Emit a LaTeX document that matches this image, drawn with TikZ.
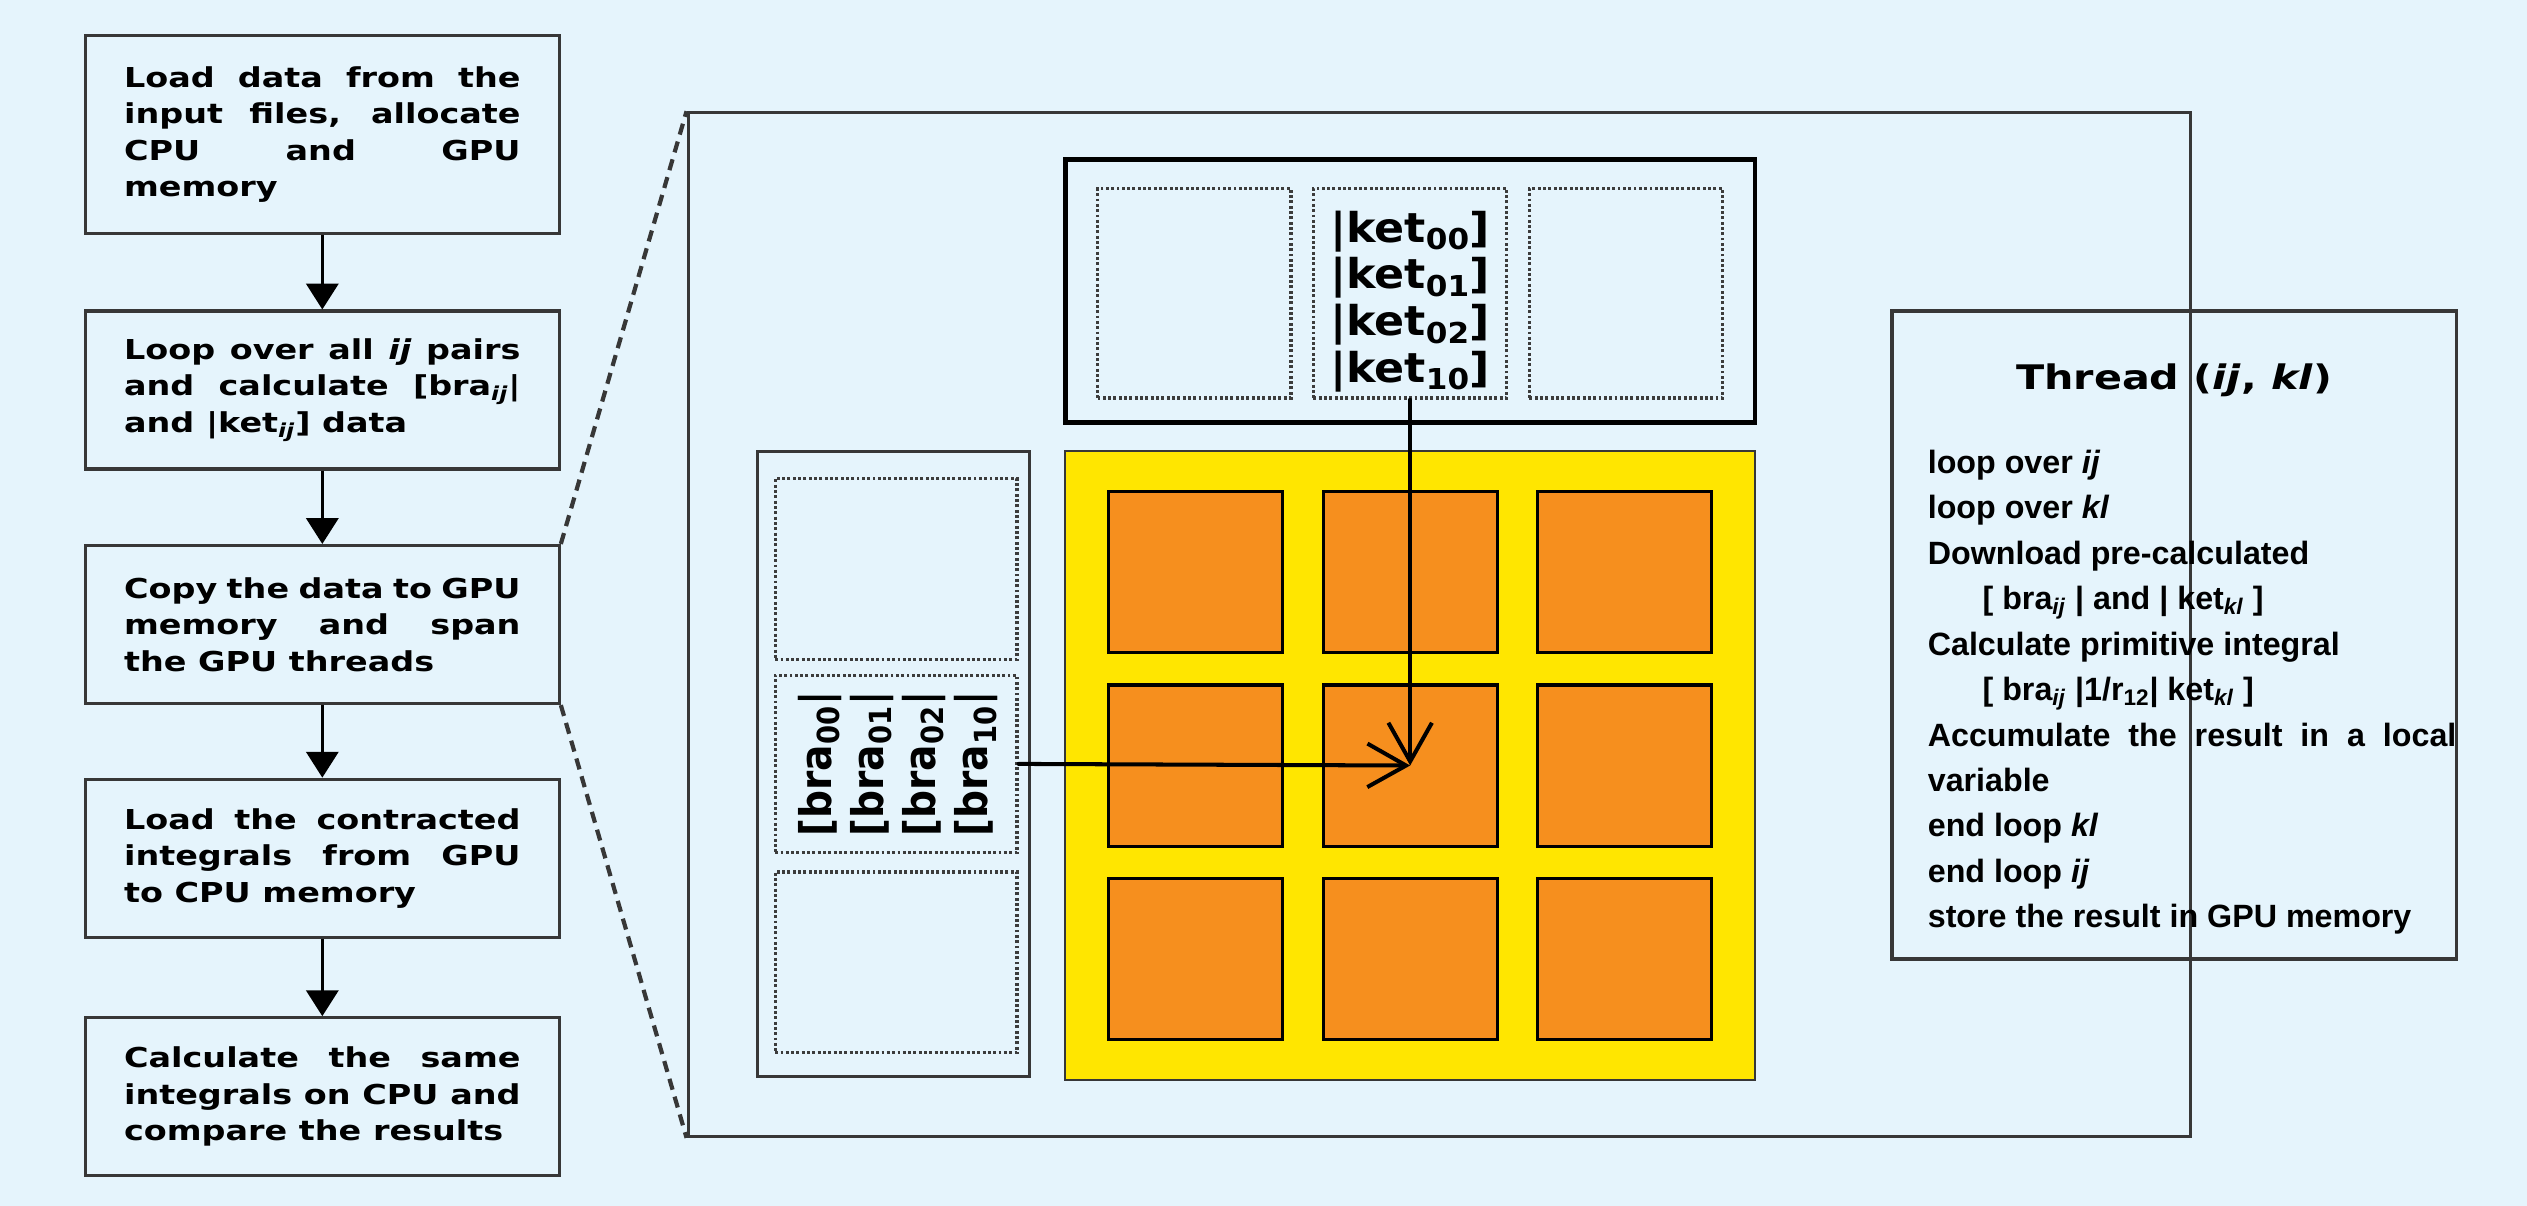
\documentclass[tikz,border=0pt]{standalone}
\usepackage{fontspec}
\setmainfont{DejaVu Sans}
\newfontfamily\vfont[FakeStretch=1.22]{DejaVu Sans}
\newfontfamily\kfont[FakeStretch=1.08]{DejaVu Sans}
\newfontfamily\bfont[FakeStretch=0.9]{DejaVu Sans}
\newfontfamily\afont{Liberation Sans}
\usetikzlibrary{arrows.meta, positioning, calc}
\definecolor{BG}{RGB}{229,244,252}
\definecolor{YL}{RGB}{255,230,0}
\definecolor{OR}{RGB}{246,143,30}
\definecolor{DG}{RGB}{55,55,55}
\definecolor{DT}{RGB}{60,60,60}
\newcommand{\fl}[1]{\makebox[246pt][s]{#1}}

\begin{document}
\begin{tikzpicture}[x=1pt, y=-1pt,
  stepbox/.style={draw=DG, line width=2pt, fill=BG, minimum width=294pt,
                  minimum height=#1, inner sep=0pt, text width=246pt, align=justify,
                  font=\vfont\bfseries\fontsize{17}{22.7}\selectfont},
  frame/.style={draw=DG, line width=2pt, minimum width=#1, inner sep=0pt},
  slot/.style={draw=DT, line width=2pt, dash pattern=on 1.8pt off 1.5pt,
               minimum width=#1, inner sep=0pt},
  cell/.style={draw=black, line width=2pt, fill=OR, minimum width=108pt,
               minimum height=100pt, inner sep=0pt},
  flow/.style={-{Triangle[length=16pt,width=20pt]}, line width=1.6pt},
  ptr/.style={-{Straight Barb[length=24pt,width=27pt]}, line width=2.5pt, line cap=round},
  zoomline/.style={draw=DG, line width=2.6pt, dash pattern=on 7pt off 4.5pt},
  lbl/.style={align=center, inner sep=0pt}
]
\useasboundingbox (0,0) rectangle (1568,748);
\fill[BG] (0,0) rectangle (1568,748);

% Host side steps
\node[stepbox=123pt] (s1) at (200,83.5)
  {\fl{Load data from the}\\ \fl{input files, allocate}\\ \fl{CPU and GPU}\\ memory};
\node[stepbox=98pt] (s2) at (200,242)
  {\fl{Loop over all \textit{ij} pairs}\\ \fl{and calculate [bra\textsubscript{\textit{ij}}|}\\ and |ket\textsubscript{\textit{ij}}] data};
\node[stepbox=98pt] (s3) at (200,387.5)
  {\fl{Copy the data to GPU}\\ \fl{memory and span}\\ the GPU threads};
\node[stepbox=98pt] (s4) at (200,532.5)
  {\fl{Load the contracted}\\ \fl{integrals from GPU}\\ to CPU memory};
\node[stepbox=98pt] (s5) at (200,680.5)
  {\fl{Calculate the same}\\ \fl{integrals on CPU and}\\ compare the results};

\draw[flow] (s1) -- (s2);
\draw[flow] (s2) -- (s3);
\draw[flow] (s3) -- (s4);
\draw[flow] (s4) -- (s5);

% GPU detail
\node[frame=932pt, fill=BG, minimum height=635pt] (gpu) at (893,387.5) {};
\draw[zoomline] (s3.north east) -- (gpu.north west);
\draw[zoomline] (s3.south east) -- (gpu.south west);

% kets
\node[frame=428pt, draw=black, line width=3pt, minimum height=163pt] (kets) at (875,180.5) {};
\node[slot=120pt, minimum height=130pt] (k1) at (741,182) {};
\node[slot=120pt, minimum height=130pt] (k2) at (875,182) {};
\node[slot=120pt, minimum height=130pt] (k3) at (1009,182) {};
\node[lbl, font=\kfont\bfseries\fontsize{25.5}{29}\selectfont] (ktxt) at (875,187)
  {|ket\textsubscript{00}]\\ |ket\textsubscript{01}]\\ |ket\textsubscript{02}]\\ |ket\textsubscript{10}]};

% bras
\node[frame=169pt, minimum height=388pt] (bras) at (554.5,474) {};
\node[slot=150pt, minimum height=112pt] (b1) at (556,353) {};
\node[slot=150pt, minimum height=110pt] (b2) at (556,474) {};
\node[slot=150pt, minimum height=112pt] (b3) at (556,597) {};
\node[lbl, rotate=90, font=\bfont\bfseries\fontsize{27}{32.3}\selectfont] (btxt) at (557,474)
  {{[}bra\textsubscript{00}|\\ {[}bra\textsubscript{01}|\\ {[}bra\textsubscript{02}|\\ {[}bra\textsubscript{10}|};

% thread grid
\node[frame=428pt, line width=1.4pt, fill=YL, minimum height=390pt] (grid) at (875,475) {};
\foreach \r/\y in {1/355, 2/475, 3/595}
  \foreach \c/\x in {1/742, 2/875, 3/1008}
    \node[cell] (c\r\c) at (\x,\y) {};

\draw[ptr] (k2.south) -- (c22.center);
\draw[ptr] (b2.east) -- (c22.center);

% one thread
\node[frame=350pt, minimum height=402pt] (thr) at (1349,394) {};
\node[font=\vfont\bfseries\fontsize{21}{24}\selectfont] (ttl) at (1349,236)
  {Thread (\textit{ij}, \textit{kl})};
\node[anchor=north west, inner sep=0pt, align=left,
      font=\afont\bfseries\fontsize{20}{28.2}\selectfont] (code) at (1196,279)
  {loop over \textit{ij}\\
   loop over \textit{kl}\\
   Download pre-calculated\\
   \hspace*{34pt}[ bra\textsubscript{\textit{ij}} | and | ket\textsubscript{\textit{kl}} ]\\
   Calculate primitive integral\\
   \hspace*{34pt}[ bra\textsubscript{\textit{ij}} |1/r\textsubscript{12}| ket\textsubscript{\textit{kl}} ]\\
   \makebox[328pt][s]{Accumulate the result in a local}\\
   variable\\
   end loop \textit{kl}\\
   end loop \textit{ij}\\
   store the result in GPU memory};
\end{tikzpicture}
\end{document}
